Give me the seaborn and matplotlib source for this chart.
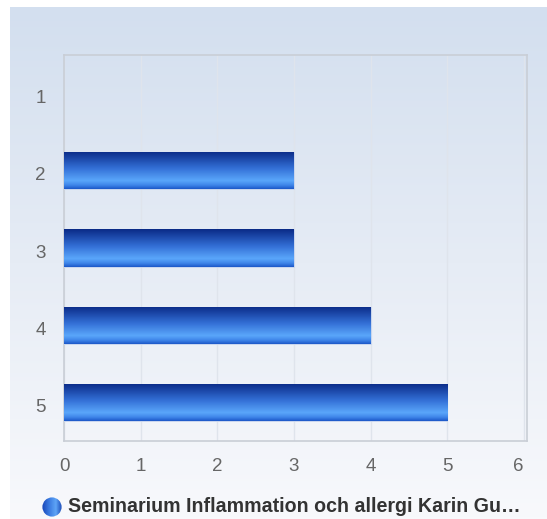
import numpy as np
import pandas as pd
import matplotlib
matplotlib.use("Agg")
import matplotlib.pyplot as plt
import seaborn as sns
from matplotlib.colors import LinearSegmentedColormap
from matplotlib.patches import Circle
from matplotlib.transforms import ScaledTranslation

categories = ["1", "2", "3", "4", "5"]
values = [0, 3, 3, 4, 5]
series_name = "Seminarium Inflammation och allergi Karin Gu…"
x_ticks = [0, 1, 2, 3, 4, 5, 6]

sns.set_style("white")
plt.rcParams["font.family"] = ["Liberation Sans", "DejaVu Sans"]

W, H = 547, 519
fig = plt.figure(figsize=(W / 100, H / 100), dpi=100)

# panel background gradient
bg = fig.add_axes([10 / W, 0, 1 - 10 / W, 1 - 7 / H])
grad = np.linspace(0, 1, 256).reshape(-1, 1)
cmap_bg = LinearSegmentedColormap.from_list("bg", ["#d3dfef", "#e6ecf5", "#f8f9fc"])
bg.imshow(grad, aspect="auto", cmap=cmap_bg, extent=[0, 1, 0, 1], origin="upper")
bg.axis("off")

ax = fig.add_axes([64 / W, 1 - 441 / H, (527 - 64) / W, (441 - 55) / H])
ax.patch.set_alpha(0)

df = pd.DataFrame({"cat": categories, "val": values})
sns.barplot(data=df, y="cat", x="val", orient="h", width=0.48, ax=ax,
            color="#2a6ad8", saturation=1, zorder=3)

bar_cmap = LinearSegmentedColormap.from_list(
    "bar", [(0.0, "#0a2a86"), (0.45, "#336fd6"), (0.78, "#5aa6fa"), (0.9, "#3f86ea"), (1.0, "#1c58c8")])
bgrad = np.linspace(0, 1, 128).reshape(-1, 1)
for p in list(ax.patches):
    w = p.get_width()
    if w <= 0:
        p.set_visible(False)
        continue
    x0, y0, h = p.get_x(), p.get_y(), p.get_height()
    p.set_edgecolor("#d6dff0")
    p.set_linewidth(0.6)
    im = ax.imshow(bgrad, aspect="auto", cmap=bar_cmap,
                   extent=(x0, x0 + w, y0 + h, y0), origin="upper", zorder=4)
    im.set_clip_path(p)

ax.set_xlim(0, 6.04)
ax.set_ylim(4.5, -0.5)
ax.set_xticks(x_ticks)
ax.set_xticklabels([str(t) for t in x_ticks])
ax.set_xlabel("")
ax.set_ylabel("")
ax.xaxis.grid(True, color="#dfe4ec", linewidth=1, zorder=0)
ax.yaxis.grid(False)
ax.set_axisbelow(True)
for s in ax.spines.values():
    s.set_visible(True)
    s.set_color("#c9ced6")
    s.set_linewidth(1.2)
ax.tick_params(axis="x", length=0, pad=12, labelsize=13.5, labelcolor="#666666")
ax.tick_params(axis="y", length=0, pad=13, labelsize=13.5, labelcolor="#666666")
ax.get_xticklabels()[-1].set_horizontalalignment("right")
ax.get_xticklabels()[-1].set_x(6.0)
shift = ScaledTranslation(0, -3 / 100, fig.dpi_scale_trans)
for lbl in ax.get_yticklabels():
    lbl.set_transform(lbl.get_transform() + shift)

# legend: gradient circle + bold label
cax = fig.add_axes([42 / W, 1 - 517 / H, 20 / W, 20 / H])
cax.set_xlim(0, 1)
cax.set_ylim(0, 1)
cax.axis("off")
ccmap = LinearSegmentedColormap.from_list(
    "c", [(0.0, "#1846b8"), (0.35, "#3a7ae0"), (0.7, "#5ea4f6"), (1.0, "#1c4cb8")])
cim = cax.imshow(np.linspace(0, 1, 64).reshape(1, -1), aspect="auto", cmap=ccmap,
                 extent=(0, 1, 0, 1))
circ = Circle((0.5, 0.5), 0.48, transform=cax.transData, facecolor="none", edgecolor="none")
cax.add_patch(circ)
cim.set_clip_path(circ)
fig.text(68 / W, 1 - 507 / H, series_name, ha="left", va="center",
         fontsize=14.1, fontweight="bold", color="#333333")

fig.savefig("out.png", dpi=100)
